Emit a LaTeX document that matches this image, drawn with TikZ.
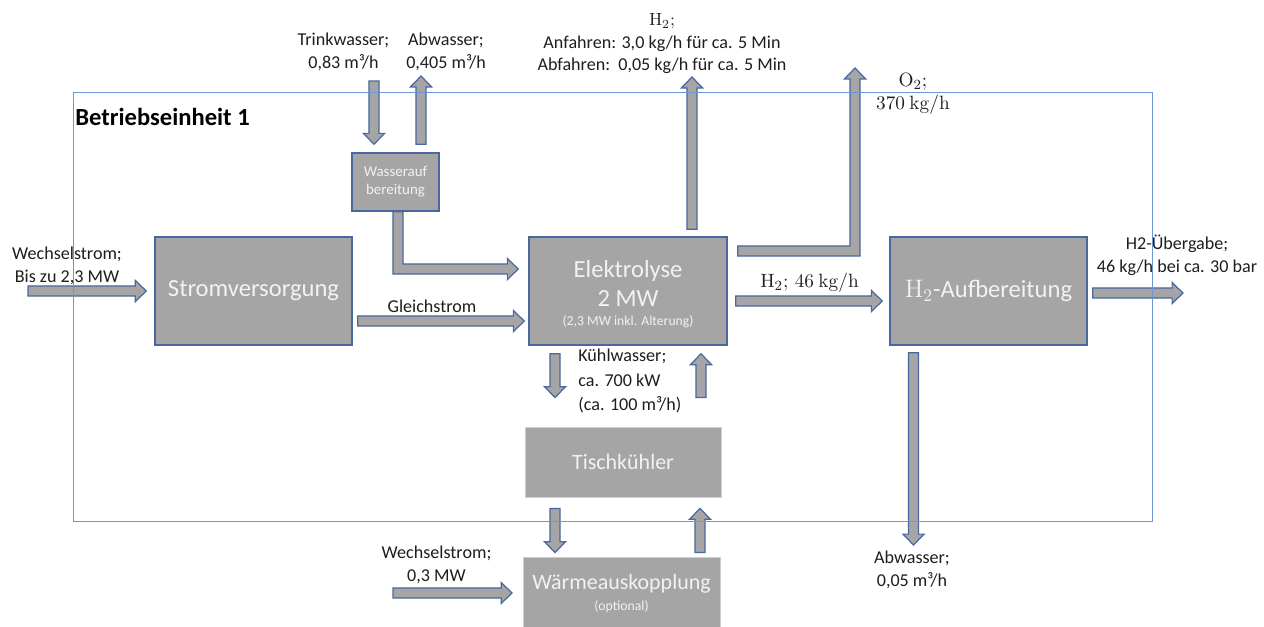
\documentclass[tikz,border=0pt]{standalone}
\usepackage[no-math]{fontspec}
\setmainfont{Carlito}
\usetikzlibrary{calc}
\definecolor{boxfill}{HTML}{A5A5A5}
\definecolor{edgeblue}{RGB}{72,104,160}
\definecolor{framecol}{RGB}{110,150,215}
\definecolor{boxtext}{HTML}{F2F2F2}
\definecolor{lbltext}{HTML}{1E1E1E}
\def\arsw{2.9pt}\def\arhw{6pt}\def\arhl{6.2pt}
\tikzset{
  bsize/.style 2 args={minimum width=#1*0.02cm, minimum height=#2*0.02cm},
  box/.style={draw=edgeblue, fill=boxfill, line width=0.85pt, text=boxtext, align=center, inner sep=0pt},
  pbox/.style={draw=boxfill!55, fill=boxfill, line width=0.5pt, text=boxtext, align=center, inner sep=0pt},
  boxtxt/.style={text=boxtext, align=center, inner sep=0pt},
  blockarrow/.style={draw=edgeblue, fill=boxfill, line width=0.7pt, line join=miter},
  lbl/.style={font=\fontsize{10.3}{13}\selectfont, align=center, inner sep=0pt, text=lbltext},
  frame/.style={draw=framecol, line width=0.6pt, inner sep=0pt, fill=none},
}
% right-pointing block arrow from #1 to #2 (y of #1)
\newcommand\arrR[2]{\path[blockarrow] let \p1=(#1), \p2=(#2) in
  (\x1,{\y1-\arsw}) -- ({\x2-\arhl},{\y1-\arsw}) -- ({\x2-\arhl},{\y1-\arhw}) -- (\x2,\y1)
  -- ({\x2-\arhl},{\y1+\arhw}) -- ({\x2-\arhl},{\y1+\arsw}) -- (\x1,{\y1+\arsw}) -- cycle;}
% upward block arrow
\newcommand\arrU[2]{\path[blockarrow] let \p1=(#1), \p2=(#2) in
  ({\x1-\arsw},\y1) -- ({\x1-\arsw},{\y2-\arhl}) -- ({\x1-\arhw},{\y2-\arhl}) -- (\x1,\y2)
  -- ({\x1+\arhw},{\y2-\arhl}) -- ({\x1+\arsw},{\y2-\arhl}) -- ({\x1+\arsw},\y1) -- cycle;}
% downward block arrow
\newcommand\arrD[2]{\path[blockarrow] let \p1=(#1), \p2=(#2) in
  ({\x1-\arsw},\y1) -- ({\x1-\arsw},{\y2+\arhl}) -- ({\x1-\arhw},{\y2+\arhl}) -- (\x1,\y2)
  -- ({\x1+\arhw},{\y2+\arhl}) -- ({\x1+\arsw},{\y2+\arhl}) -- ({\x1+\arsw},\y1) -- cycle;}
% down then right
\newcommand\arrDR[2]{\path[blockarrow] let \p1=(#1), \p2=(#2) in
  ({\x1-\arsw},\y1) -- ({\x1-\arsw},{\y2-\arsw}) -- ({\x2-\arhl},{\y2-\arsw}) -- ({\x2-\arhl},{\y2-\arhw})
  -- (\x2,\y2) -- ({\x2-\arhl},{\y2+\arhw}) -- ({\x2-\arhl},{\y2+\arsw}) -- ({\x1+\arsw},{\y2+\arsw})
  -- ({\x1+\arsw},\y1) -- cycle;}
% right then up
\newcommand\arrRU[2]{\path[blockarrow] let \p1=(#1), \p2=(#2) in
  (\x1,{\y1-\arsw}) -- ({\x2+\arsw},{\y1-\arsw}) -- ({\x2+\arsw},{\y2-\arhl}) -- ({\x2+\arhw},{\y2-\arhl})
  -- (\x2,\y2) -- ({\x2-\arhw},{\y2-\arhl}) -- ({\x2-\arsw},{\y2-\arhl}) -- ({\x2-\arsw},{\y1+\arsw})
  -- (\x1,{\y1+\arsw}) -- cycle;}
\begin{document}
\begin{tikzpicture}[x=0.02cm, y=-0.02cm]
\useasboundingbox (0,0) rectangle (1264,626);

% boxes
\node[box, bsize={197}{108}, font=\fontsize{14}{17}\selectfont] (strom) at (253.5,291) {Stromversorgung};
\node[box, bsize={198}{108}] (elek) at (628,291) {};
\node[boxtxt, font=\fontsize{14}{16.5}\selectfont] (elektxt) at (628,283) {Elektrolyse\\2 MW};
\node[boxtxt, font=\fontsize{7.8}{9}\selectfont] (elekmini) at (628,322) {(2,3 MW inkl. Alterung)};
\node[box, bsize={197}{108}, font=\fontsize{14}{17}\selectfont] (h2auf) at (988.5,291) {$\mathrm{H_2}$-Aufbereitung};
\node[pbox, bsize={196}{70}, font=\fontsize{12.5}{15}\selectfont] (tisch) at (623,462) {Tischkühler};
\node[pbox, bsize={197}{75}] (waerme) at (621.5,595) {};
\node[boxtxt, font=\fontsize{12.5}{15}\selectfont] (waermetxt) at (621.5,584) {Wärmeauskopplung};
\node[boxtxt, font=\fontsize{7.8}{9}\selectfont] (waermemini) at (621.5,607) {(optional)};
\node[box, bsize={87}{58}, font=\fontsize{8.5}{10.4}\selectfont] (wasser) at (395.5,182) {Wasserauf\\bereitung};

% free arrow ends
\coordinate (acin) at (28,291);
\coordinate (trinkin) at (374,81);
\coordinate (abwout) at (421,76);
\coordinate (h2out) at (692,77);
\coordinate (o2out) at (855,68);
\coordinate (uebout) at (1183,293);
\coordinate (abw2out) at (913.5,545);
\coordinate (ac2in) at (393,593);

% arrows
\arrR{acin}{$(strom.west)+(-8,0)$}
\arrR{$(strom.east)+(5,30)$}{$(elek.west)+(-4,30)$}
\arrDR{$(wasser.south)+(2.5,0)$}{$(elek.west)+(-10,-22)$}
\arrD{trinkin}{$(wasser.north)+(-21.5,-8)$}
\arrU{$(wasser.north)+(25.5,-8)$}{abwout}
\arrU{$(elek.north)+(64,-7)$}{h2out}
\arrRU{$(elek.east)+(10,-40)$}{o2out}
\arrR{$(elek.east)+(8,10)$}{$(h2auf.west)+(-7,10)$}
\arrR{$(h2auf.east)+(5,2)$}{uebout}
\arrD{$(h2auf.south)+(-75,7)$}{abw2out}
\arrD{$(elek.south)+(-73,8)$}{$(tisch.north)+(-68,-29)$}
\arrU{$(tisch.north)+(78,-29)$}{$(elek.south)+(73,8)$}
\arrD{$(tisch.south)+(-68,11)$}{$(waerme.north)+(-66.5,-4.5)$}
\arrU{$(waerme.north)+(78.5,-4.5)$}{$(tisch.south)+(77,11)$}
\arrR{ac2in}{$(waerme.west)+(-10.5,-2)$}

% labels
\node[lbl] (lacin) at (67,266) {Wechselstrom;\\Bis zu 2,3 MW};
\node[lbl] (lgleich) at (432,306) {Gleichstrom};
\node[lbl] (ltrink) at (343.5,51.5) {Trinkwasser;\\0,83 m³/h};
\node[lbl] (labw) at (446,51.5) {Abwasser;\\0,405 m³/h};
\node[lbl, font=\fontsize{10.3}{12.8}\selectfont] (lh2) at (662,44) {$\mathrm{H_2;}$\\Anfahren: 3,0 kg/h für ca. 5 Min\\Abfahren:\ \ 0,05 kg/h für ca. 5 Min};
\node[lbl, font=\fontsize{11}{13}\selectfont] (lo2) at (913,93.5) {$\mathrm{O_2;}$\\$\mathrm{370\ kg/h}$};
\node[lbl, font=\fontsize{11}{13}\selectfont] (lh246) at (809.5,283) {$\mathrm{H_2;\,46\ kg/h}$};
\node[lbl] (lueb) at (1177,255) {H2-Übergabe;\\46 kg/h bei ca. 30 bar};
\node[lbl, align=left, anchor=west, font=\fontsize{10.3}{13.8}\selectfont] (lkuehl) at (578,381) {Kühlwasser;\\ca. 700 kW\\(ca. 100 m³/h)};
\node[lbl] (labw2) at (912,570) {Abwasser;\\0,05 m³/h};
\node[lbl] (lac2) at (436.5,565) {Wechselstrom;\\0,3 MW};

% frame (on top)
\node[frame, anchor=north west, bsize={1079}{429}] (frame) at (73,92) {};
\node[anchor=west, inner sep=0pt, font=\bfseries\fontsize{14}{17}\selectfont] (title) at (75,117) {Betriebseinheit 1};
\end{tikzpicture}
\end{document}
